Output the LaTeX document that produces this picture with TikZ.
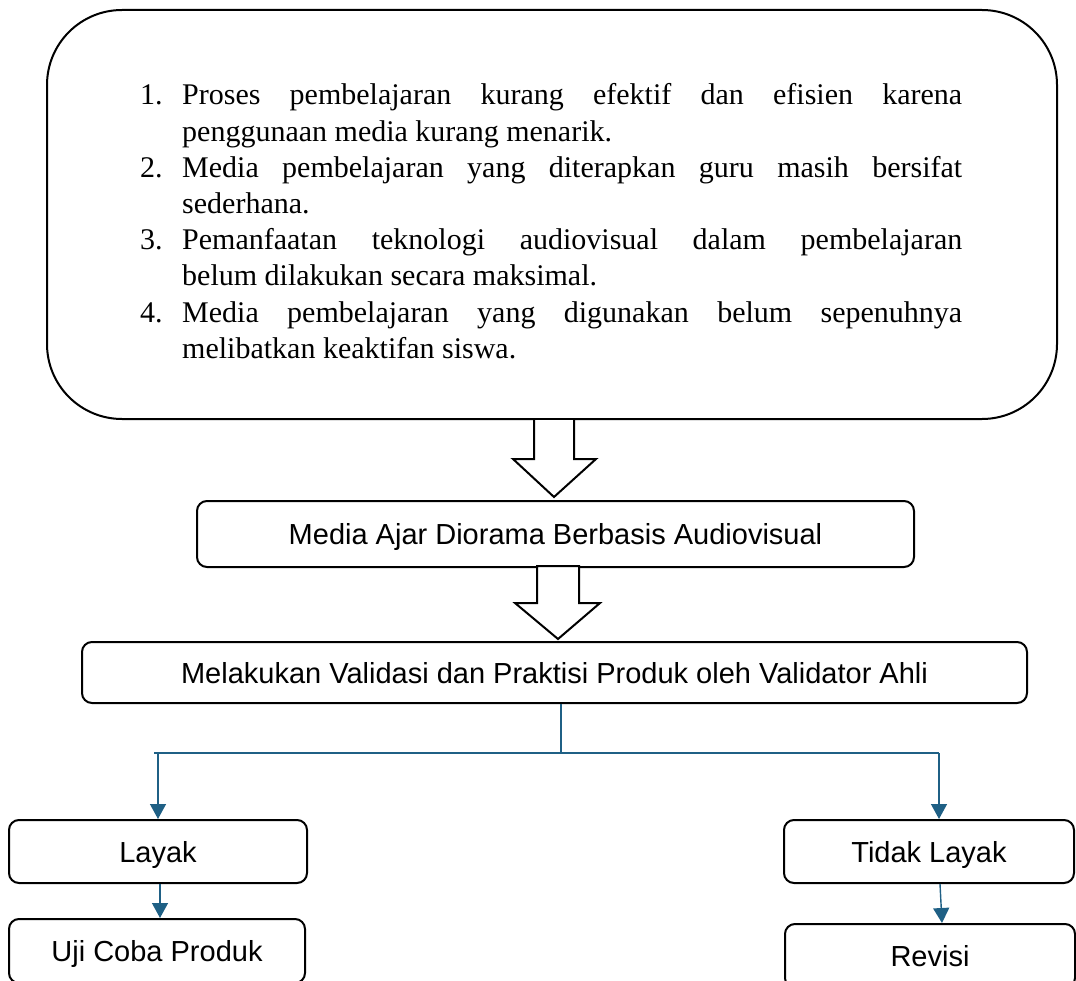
\documentclass[tikz,border=0pt]{standalone}
\usepackage{fontspec}
\setmainfont{Liberation Serif}
\newfontfamily\boxsans{Liberation Sans}
\usetikzlibrary{arrows.meta,calc}
\definecolor{connblue}{RGB}{31,96,133}
\begin{document}
\begin{tikzpicture}[x=1pt,y=-1pt,
  bigbox/.style={draw=black,line width=2pt,rounded corners=75pt,inner sep=0pt,minimum width=1010pt,minimum height=409pt},
  stepbox/.style={draw=black,line width=2pt,rounded corners=10pt,inner sep=0pt,text height=21pt,text depth=0pt,font=\boxsans\fontsize{29}{34}\selectfont},
  hollow/.style={draw=black,line width=2pt,fill=white,line join=miter},
  conn/.style={draw=connblue,line width=1.4pt},
  connarrow/.style={conn,-{Triangle[length=15pt,width=16pt]}}]
\useasboundingbox (0,0) rectangle (1076,981);
\clip (0,0) rectangle (1076,981);

% big problem box
\node[bigbox] (prob) at (552,214.5) {};
\node[anchor=base west,inner sep=0pt] (list) at (140,105) {\parbox[t]{822pt}{\fontsize{30}{36.2}\selectfont
\hbox to 822pt{\hbox to 42pt{1.\hfil}\hbox to 780pt{Proses pembelajaran kurang efektif dan efisien karena}\hss}
\hbox{\hbox to 42pt{}penggunaan media kurang menarik.}
\hbox to 822pt{\hbox to 42pt{2.\hfil}\hbox to 780pt{Media pembelajaran yang diterapkan guru masih bersifat}\hss}
\hbox{\hbox to 42pt{}sederhana.}
\hbox to 822pt{\hbox to 42pt{3.\hfil}\hbox to 780pt{Pemanfaatan teknologi audiovisual dalam pembelajaran}\hss}
\hbox{\hbox to 42pt{}belum dilakukan secara maksimal.}
\hbox to 822pt{\hbox to 42pt{4.\hfil}\hbox to 780pt{Media pembelajaran yang digunakan belum sepenuhnya}\hss}
\hbox{\hbox to 42pt{}melibatkan keaktifan siswa.}}};

% step boxes
\node[stepbox,minimum width=717pt,minimum height=66pt] (media) at (555.5,534) {Media Ajar Diorama Berbasis Audiovisual};
\node[stepbox,minimum width=945pt,minimum height=61pt] (valid) at (554.5,672.5) {Melakukan Validasi dan Praktisi Produk oleh Validator Ahli};
\node[stepbox,minimum width=298pt,minimum height=63pt] (layak) at (158,851.5) {Layak};
\node[stepbox,minimum width=290pt,minimum height=63pt] (tidak) at (929,851.5) {Tidak Layak};
\node[stepbox,minimum width=296pt,minimum height=64pt] (uji) at (157,951) {Uji Coba Produk};
\node[stepbox,minimum width=290pt,minimum height=64pt] (revisi) at (930,956) {Revisi};

% hollow block arrows
\draw[hollow] (534,420) -- (534,459) -- (513,459) -- (554,497) -- (596,459) -- (574,459) -- (574,420);
\draw[hollow] (537,566) -- (537,603) -- (515,603) -- (558,639) -- (600,603) -- (579,603) -- (579,566) -- cycle;

% connectors
\coordinate (split) at (561,753);
\coordinate (hL) at (154,753);
\coordinate (hR) at (939,753);
\coordinate (cL) at (158,753);
\coordinate (xA) at (160,0);
\coordinate (xB) at (940,0);
\coordinate (xC) at (942,0);
\draw[conn] (valid.south -| split) -- (split);
\draw[conn] (hL) -- (hR);
\draw[connarrow] (cL) -- (layak.north);
\draw[connarrow] (hR) -- (tidak.north -| hR);
\draw[connarrow] (layak.south -| xA) -- (uji.north -| xA);
\draw[connarrow] (tidak.south -| xB) -- (revisi.north -| xC);
\end{tikzpicture}
\end{document}
